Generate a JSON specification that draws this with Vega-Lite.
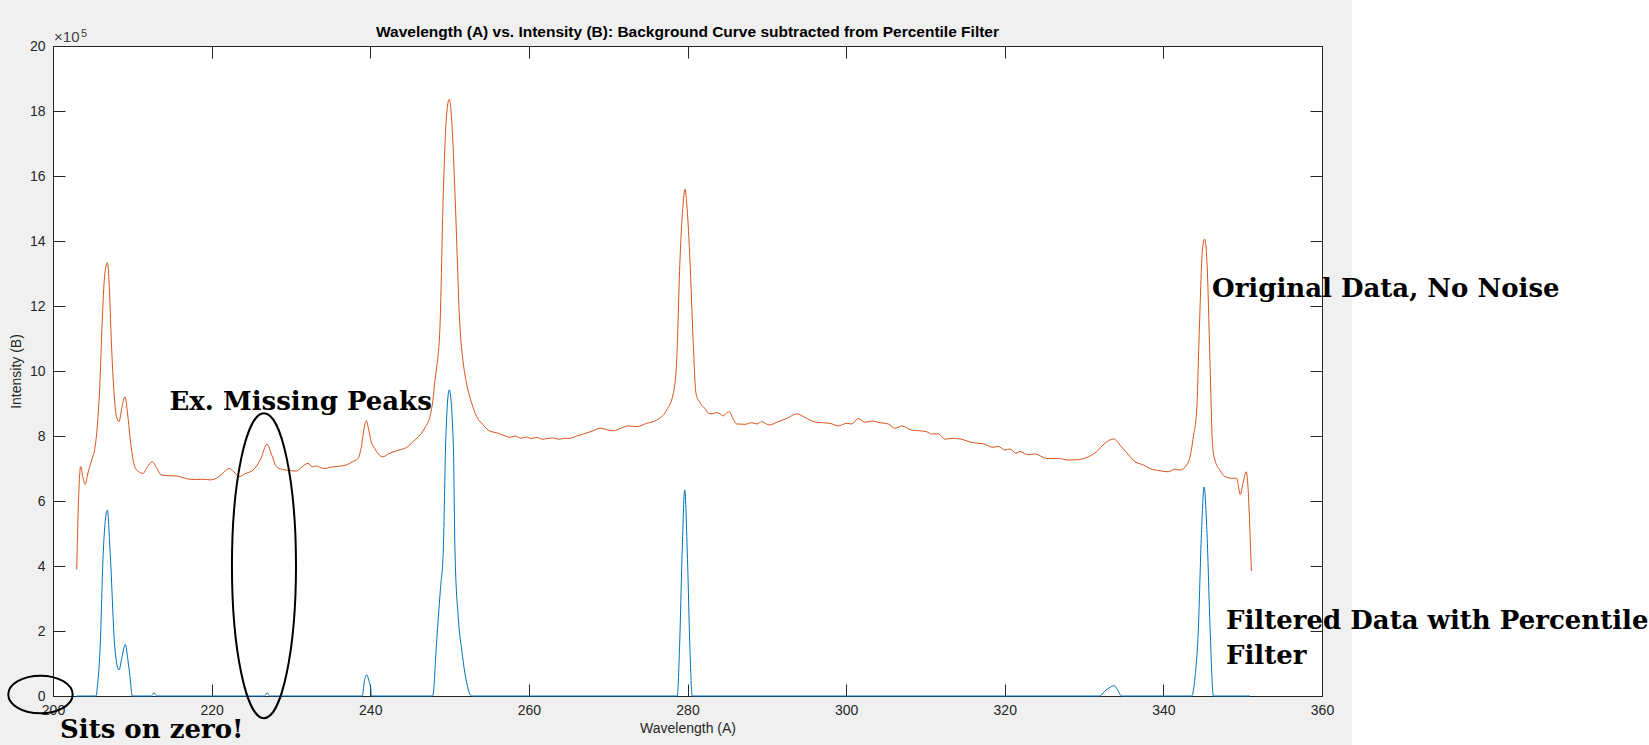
{
  "$schema": "https://vega.github.io/schema/vega-lite/v6.json",
  "autosize": {"type": "none"},
  "width": 1269,
  "height": 650,
  "padding": {"left": 53, "top": 46, "right": 327, "bottom": 49},
  "background": "#f0f0f0",
  "title": {"text": "Wavelength (A) vs. Intensity (B): Background Curve subtracted from Percentile Filter", "font": "Liberation Sans", "fontSize": 15.5, "fontWeight": "bold", "color": "#000000", "anchor": "middle", "offset": 6, "dy": 48},
  "config": {
    "view": {"fill": "#ffffff", "stroke": "#262626", "strokeWidth": 1},
    "axis": {"labelFont": "Liberation Sans", "labelFontSize": 14, "labelColor": "#262626", "titleFont": "Liberation Sans", "titleFontSize": 14, "titleFontWeight": "normal", "titleColor": "#262626", "domainColor": "#262626", "tickColor": "#262626", "tickSize": -12, "grid": false, "labelFlush": false, "labelOverlap": false}
  },
  "datasets": {
    "original": [
      {"wavelength": 202.99, "intensity": 390000}, {"wavelength": 203.2, "intensity": 590000}, {"wavelength": 203.49, "intensity": 706000}, {"wavelength": 203.75, "intensity": 675000}, {"wavelength": 204.07, "intensity": 651000}, {"wavelength": 204.35, "intensity": 680000}, {"wavelength": 204.62, "intensity": 706000}, {"wavelength": 205.0, "intensity": 735000}, {"wavelength": 205.25, "intensity": 757000}, {"wavelength": 205.55, "intensity": 820000}, {"wavelength": 205.88, "intensity": 942000}, {"wavelength": 206.2, "intensity": 1150000}, {"wavelength": 206.5, "intensity": 1290000}, {"wavelength": 206.85, "intensity": 1333000}, {"wavelength": 207.1, "intensity": 1260000}, {"wavelength": 207.35, "intensity": 1095000}, {"wavelength": 207.7, "intensity": 930000}, {"wavelength": 208.0, "intensity": 860000}, {"wavelength": 208.32, "intensity": 844000}, {"wavelength": 208.7, "intensity": 890000}, {"wavelength": 209.08, "intensity": 921000}, {"wavelength": 209.4, "intensity": 870000}, {"wavelength": 209.75, "intensity": 788000}, {"wavelength": 210.3, "intensity": 706000}, {"wavelength": 210.8, "intensity": 690000}, {"wavelength": 211.35, "intensity": 685000}, {"wavelength": 211.9, "intensity": 705000}, {"wavelength": 212.52, "intensity": 721000}, {"wavelength": 213.1, "intensity": 700000}, {"wavelength": 213.65, "intensity": 680000}, {"wavelength": 214.6, "intensity": 678000}, {"wavelength": 215.55, "intensity": 677000}, {"wavelength": 216.4, "intensity": 672000}, {"wavelength": 217.24, "intensity": 667000}, {"wavelength": 218.1, "intensity": 666000}, {"wavelength": 218.91, "intensity": 667000}, {"wavelength": 219.8, "intensity": 665000}, {"wavelength": 220.59, "intensity": 670000}, {"wavelength": 221.4, "intensity": 685000}, {"wavelength": 222.19, "intensity": 700000}, {"wavelength": 222.8, "intensity": 690000}, {"wavelength": 223.45, "intensity": 675000}, {"wavelength": 224.3, "intensity": 685000}, {"wavelength": 225.22, "intensity": 695000}, {"wavelength": 226.2, "intensity": 730000}, {"wavelength": 226.98, "intensity": 775000}, {"wavelength": 227.6, "intensity": 740000}, {"wavelength": 228.16, "intensity": 706000}, {"wavelength": 228.8, "intensity": 698000}, {"wavelength": 229.42, "intensity": 695000}, {"wavelength": 230.1, "intensity": 693000}, {"wavelength": 230.68, "intensity": 692000}, {"wavelength": 231.4, "intensity": 705000}, {"wavelength": 232.15, "intensity": 716000}, {"wavelength": 232.7, "intensity": 705000}, {"wavelength": 233.2, "intensity": 708000}, {"wavelength": 233.7, "intensity": 703000}, {"wavelength": 234.26, "intensity": 700000}, {"wavelength": 235.0, "intensity": 704000}, {"wavelength": 235.72, "intensity": 706000}, {"wavelength": 236.4, "intensity": 708000}, {"wavelength": 236.98, "intensity": 711000}, {"wavelength": 237.7, "intensity": 720000}, {"wavelength": 238.46, "intensity": 731000}, {"wavelength": 238.9, "intensity": 770000}, {"wavelength": 239.2, "intensity": 820000}, {"wavelength": 239.5, "intensity": 847000}, {"wavelength": 239.8, "intensity": 820000}, {"wavelength": 240.15, "intensity": 780000}, {"wavelength": 240.56, "intensity": 762000}, {"wavelength": 241.0, "intensity": 745000}, {"wavelength": 241.61, "intensity": 736000}, {"wavelength": 242.3, "intensity": 745000}, {"wavelength": 243.0, "intensity": 752000}, {"wavelength": 243.8, "intensity": 758000}, {"wavelength": 244.6, "intensity": 765000}, {"wavelength": 245.5, "intensity": 785000}, {"wavelength": 246.27, "intensity": 803000}, {"wavelength": 247.0, "intensity": 830000}, {"wavelength": 247.53, "intensity": 860000}, {"wavelength": 247.9, "intensity": 910000}, {"wavelength": 248.16, "intensity": 972000}, {"wavelength": 248.37, "intensity": 1010000}, {"wavelength": 248.79, "intensity": 1136000}, {"wavelength": 249.21, "intensity": 1547000}, {"wavelength": 249.6, "intensity": 1780000}, {"wavelength": 249.96, "intensity": 1836000}, {"wavelength": 250.3, "intensity": 1760000}, {"wavelength": 250.68, "intensity": 1547000}, {"wavelength": 251.31, "intensity": 1136000}, {"wavelength": 251.7, "intensity": 1030000}, {"wavelength": 252.16, "intensity": 960000}, {"wavelength": 252.8, "intensity": 900000}, {"wavelength": 253.42, "intensity": 860000}, {"wavelength": 254.2, "intensity": 835000}, {"wavelength": 254.88, "intensity": 818000}, {"wavelength": 255.5, "intensity": 812000}, {"wavelength": 255.94, "intensity": 810000}, {"wavelength": 256.5, "intensity": 805000}, {"wavelength": 257.0, "intensity": 800000}, {"wavelength": 257.62, "intensity": 796000}, {"wavelength": 258.3, "intensity": 800000}, {"wavelength": 259.0, "intensity": 793000}, {"wavelength": 259.7, "intensity": 797000}, {"wavelength": 260.3, "intensity": 792000}, {"wavelength": 261.0, "intensity": 796000}, {"wavelength": 261.7, "intensity": 790000}, {"wavelength": 262.25, "intensity": 792000}, {"wavelength": 263.0, "intensity": 794000}, {"wavelength": 263.8, "intensity": 790000}, {"wavelength": 264.5, "intensity": 793000}, {"wavelength": 265.19, "intensity": 793000}, {"wavelength": 266.0, "intensity": 800000}, {"wavelength": 266.87, "intensity": 806000}, {"wavelength": 268.0, "intensity": 815000}, {"wavelength": 268.97, "intensity": 824000}, {"wavelength": 269.8, "intensity": 820000}, {"wavelength": 270.65, "intensity": 816000}, {"wavelength": 271.6, "intensity": 824000}, {"wavelength": 272.54, "intensity": 831000}, {"wavelength": 273.6, "intensity": 829000}, {"wavelength": 274.86, "intensity": 839000}, {"wavelength": 276.12, "intensity": 849000}, {"wavelength": 277.38, "intensity": 880000}, {"wavelength": 278.21, "intensity": 931000}, {"wavelength": 278.64, "intensity": 1034000}, {"wavelength": 279.05, "intensity": 1340000}, {"wavelength": 279.4, "intensity": 1500000}, {"wavelength": 279.68, "intensity": 1559000}, {"wavelength": 279.95, "intensity": 1500000}, {"wavelength": 280.31, "intensity": 1340000}, {"wavelength": 280.7, "intensity": 1100000}, {"wavelength": 281.07, "intensity": 931000}, {"wavelength": 281.49, "intensity": 906000}, {"wavelength": 281.79, "intensity": 895000}, {"wavelength": 282.2, "intensity": 885000}, {"wavelength": 282.62, "intensity": 870000}, {"wavelength": 283.1, "intensity": 868000}, {"wavelength": 283.68, "intensity": 872000}, {"wavelength": 284.1, "intensity": 868000}, {"wavelength": 284.51, "intensity": 862000}, {"wavelength": 284.9, "intensity": 870000}, {"wavelength": 285.27, "intensity": 875000}, {"wavelength": 285.7, "intensity": 855000}, {"wavelength": 286.2, "intensity": 837000}, {"wavelength": 287.25, "intensity": 836000}, {"wavelength": 288.09, "intensity": 841000}, {"wavelength": 288.72, "intensity": 837000}, {"wavelength": 289.35, "intensity": 844000}, {"wavelength": 290.31, "intensity": 834000}, {"wavelength": 291.24, "intensity": 842000}, {"wavelength": 292.5, "intensity": 854000}, {"wavelength": 293.77, "intensity": 868000}, {"wavelength": 294.81, "intensity": 857000}, {"wavelength": 296.07, "intensity": 843000}, {"wavelength": 297.97, "intensity": 839000}, {"wavelength": 299.01, "intensity": 831000}, {"wavelength": 300.07, "intensity": 839000}, {"wavelength": 300.7, "intensity": 837000}, {"wavelength": 301.54, "intensity": 854000}, {"wavelength": 302.38, "intensity": 842000}, {"wavelength": 303.22, "intensity": 846000}, {"wavelength": 304.27, "intensity": 841000}, {"wavelength": 305.32, "intensity": 837000}, {"wavelength": 306.16, "intensity": 824000}, {"wavelength": 307.01, "intensity": 831000}, {"wavelength": 308.27, "intensity": 818000}, {"wavelength": 309.31, "intensity": 816000}, {"wavelength": 310.16, "intensity": 813000}, {"wavelength": 310.79, "intensity": 806000}, {"wavelength": 311.62, "intensity": 807000}, {"wavelength": 312.47, "intensity": 790000}, {"wavelength": 313.31, "intensity": 793000}, {"wavelength": 314.57, "intensity": 790000}, {"wavelength": 315.4, "intensity": 783000}, {"wavelength": 316.46, "intensity": 778000}, {"wavelength": 317.29, "intensity": 776000}, {"wavelength": 318.55, "intensity": 765000}, {"wavelength": 319.18, "intensity": 768000}, {"wavelength": 320.03, "intensity": 757000}, {"wavelength": 320.66, "intensity": 760000}, {"wavelength": 321.42, "intensity": 747000}, {"wavelength": 321.92, "intensity": 752000}, {"wavelength": 322.97, "intensity": 742000}, {"wavelength": 323.81, "intensity": 745000}, {"wavelength": 325.29, "intensity": 731000}, {"wavelength": 326.75, "intensity": 731000}, {"wavelength": 328.01, "intensity": 726000}, {"wavelength": 329.07, "intensity": 727000}, {"wavelength": 330.54, "intensity": 736000}, {"wavelength": 331.59, "intensity": 752000}, {"wavelength": 332.64, "intensity": 778000}, {"wavelength": 333.77, "intensity": 791000}, {"wavelength": 334.53, "intensity": 772000}, {"wavelength": 335.37, "intensity": 749000}, {"wavelength": 336.42, "intensity": 721000}, {"wavelength": 337.47, "intensity": 711000}, {"wavelength": 338.31, "intensity": 700000}, {"wavelength": 339.57, "intensity": 693000}, {"wavelength": 340.62, "intensity": 690000}, {"wavelength": 341.47, "intensity": 698000}, {"wavelength": 342.1, "intensity": 695000}, {"wavelength": 342.94, "intensity": 711000}, {"wavelength": 343.36, "intensity": 736000}, {"wavelength": 343.78, "intensity": 798000}, {"wavelength": 344.2, "intensity": 880000}, {"wavelength": 344.53, "intensity": 1126000}, {"wavelength": 344.96, "intensity": 1383000}, {"wavelength": 345.21, "intensity": 1406000}, {"wavelength": 345.54, "intensity": 1311000}, {"wavelength": 345.88, "intensity": 1024000}, {"wavelength": 346.21, "intensity": 767000}, {"wavelength": 346.5, "intensity": 726000}, {"wavelength": 347.13, "intensity": 695000}, {"wavelength": 347.76, "intensity": 675000}, {"wavelength": 348.61, "intensity": 670000}, {"wavelength": 349.24, "intensity": 670000}, {"wavelength": 349.7, "intensity": 620000}, {"wavelength": 350.0, "intensity": 650000}, {"wavelength": 350.45, "intensity": 690000}, {"wavelength": 350.7, "intensity": 630000}, {"wavelength": 351.0, "intensity": 450000}, {"wavelength": 351.1, "intensity": 385000}
    ],
    "filtered": [
      {"wavelength": 203.0, "intensity": 0}, {"wavelength": 205.42, "intensity": 0}, {"wavelength": 205.6, "intensity": 30000}, {"wavelength": 205.93, "intensity": 142000}, {"wavelength": 206.35, "intensity": 449000}, {"wavelength": 206.85, "intensity": 572000}, {"wavelength": 207.19, "intensity": 449000}, {"wavelength": 207.82, "intensity": 142000}, {"wavelength": 208.32, "intensity": 80000}, {"wavelength": 208.7, "intensity": 120000}, {"wavelength": 209.12, "intensity": 159000}, {"wavelength": 209.45, "intensity": 110000}, {"wavelength": 209.71, "intensity": 60000}, {"wavelength": 210.0, "intensity": 0}, {"wavelength": 212.4, "intensity": 0}, {"wavelength": 212.75, "intensity": 10000}, {"wavelength": 213.07, "intensity": 0}, {"wavelength": 226.7, "intensity": 0}, {"wavelength": 227.0, "intensity": 10000}, {"wavelength": 227.3, "intensity": 0}, {"wavelength": 239.0, "intensity": 0}, {"wavelength": 239.25, "intensity": 45000}, {"wavelength": 239.55, "intensity": 65000}, {"wavelength": 239.85, "intensity": 45000}, {"wavelength": 240.1, "intensity": 15000}, {"wavelength": 240.12, "intensity": 0}, {"wavelength": 247.87, "intensity": 0}, {"wavelength": 248.4, "intensity": 180000}, {"wavelength": 248.85, "intensity": 330000}, {"wavelength": 249.21, "intensity": 449000}, {"wavelength": 249.51, "intensity": 778000}, {"wavelength": 249.96, "intensity": 942000}, {"wavelength": 250.47, "intensity": 778000}, {"wavelength": 250.68, "intensity": 449000}, {"wavelength": 251.1, "intensity": 240000}, {"wavelength": 251.53, "intensity": 142000}, {"wavelength": 251.94, "intensity": 70000}, {"wavelength": 252.79, "intensity": 0}, {"wavelength": 278.7, "intensity": 0}, {"wavelength": 279.0, "intensity": 150000}, {"wavelength": 279.3, "intensity": 420000}, {"wavelength": 279.65, "intensity": 634000}, {"wavelength": 280.0, "intensity": 420000}, {"wavelength": 280.3, "intensity": 150000}, {"wavelength": 280.6, "intensity": 0}, {"wavelength": 332.0, "intensity": 0}, {"wavelength": 332.6, "intensity": 15000}, {"wavelength": 333.3, "intensity": 27000}, {"wavelength": 333.77, "intensity": 32000}, {"wavelength": 334.2, "intensity": 20000}, {"wavelength": 334.74, "intensity": 0}, {"wavelength": 343.57, "intensity": 0}, {"wavelength": 344.0, "intensity": 60000}, {"wavelength": 344.4, "intensity": 200000}, {"wavelength": 344.8, "intensity": 500000}, {"wavelength": 345.14, "intensity": 643000}, {"wavelength": 345.5, "intensity": 500000}, {"wavelength": 345.9, "intensity": 200000}, {"wavelength": 346.3, "intensity": 0}, {"wavelength": 350.92, "intensity": 0}
    ],
    "notes": [
      {"wavelength": 346.13, "intensity": 1229230, "note": "Original Data, No Noise"},
      {"wavelength": 347.9, "intensity": 206154, "note": "Filtered Data with Percentile"},
      {"wavelength": 347.9, "intensity": 98462, "note": "Filter"},
      {"wavelength": 214.69, "intensity": 880000, "note": "Ex. Missing Peaks"},
      {"wavelength": 200.88, "intensity": -130154, "note": "Sits on zero!"}
    ]
  },
  "resolve": {"axis": {"x": "independent", "y": "independent"}},
  "layer": [
    {
      "data": {"values": [{}]},
      "mark": {"type": "rect", "color": "#ffffff"},
      "encoding": {
        "x": {"datum": 363.8, "type": "quantitative", "scale": {"domain": [200, 360], "nice": false}, "axis": null},
        "x2": {"datum": 402},
        "y": {"datum": -152000, "type": "quantitative", "scale": {"domain": [0, 2000000], "nice": false}, "axis": null},
        "y2": {"datum": 2145000}
      }
    },
    {
      "data": {"name": "original"},
      "mark": {"type": "line", "color": "#D95319", "strokeWidth": 1, "interpolate": "monotone"},
      "encoding": {
        "x": {"field": "wavelength", "type": "quantitative", "scale": {"domain": [200, 360], "nice": false}, "axis": {"orient": "bottom", "title": "Wavelength (A)", "values": [200, 220, 240, 260, 280, 300, 320, 340, 360], "labelPadding": 19, "titlePadding": 4}},
        "y": {"field": "intensity", "type": "quantitative", "scale": {"domain": [0, 2000000], "nice": false}, "axis": {"orient": "left", "title": "Intensity (B)", "values": [0, 200000, 400000, 600000, 800000, 1000000, 1200000, 1400000, 1600000, 1800000, 2000000], "labelExpr": "datum.value / 100000", "labelPadding": 20, "titlePadding": 6}}
      }
    },
    {
      "data": {"name": "filtered"},
      "mark": {"type": "line", "color": "#0072BD", "strokeWidth": 1, "interpolate": "monotone"},
      "encoding": {
        "x": {"field": "wavelength", "type": "quantitative", "scale": {"domain": [200, 360], "nice": false}, "axis": {"orient": "top", "title": null, "labels": false, "values": [200, 220, 240, 260, 280, 300, 320, 340, 360]}},
        "y": {"field": "intensity", "type": "quantitative", "scale": {"domain": [0, 2000000], "nice": false}, "axis": {"orient": "right", "title": null, "labels": false, "values": [0, 200000, 400000, 600000, 800000, 1000000, 1200000, 1400000, 1600000, 1800000, 2000000]}}
      }
    },
    {
      "data": {"values": [{}]},
      "mark": {"type": "point", "filled": false, "stroke": "#000000", "strokeWidth": 2, "opacity": 1, "size": 93025, "shape": "M 0 -1 C 0.116 -1 0.21 -0.552 0.21 0 C 0.21 0.552 0.116 1 0 1 C -0.116 1 -0.21 0.552 -0.21 0 C -0.21 -0.552 -0.116 -1 0 -1 Z"},
      "encoding": {
        "x": {"datum": 226.6, "type": "quantitative", "scale": {"domain": [200, 360], "nice": false}, "axis": null},
        "y": {"datum": 400923, "type": "quantitative", "scale": {"domain": [0, 2000000], "nice": false}, "axis": null}
      }
    },
    {
      "data": {"values": [{}]},
      "mark": {"type": "point", "filled": false, "stroke": "#000000", "strokeWidth": 2, "opacity": 1, "size": 4147, "shape": "M -1 0 C -1 -0.3226 -0.5523 -0.584 0 -0.584 C 0.5523 -0.584 1 -0.3226 1 0 C 1 0.3226 0.5523 0.584 0 0.584 C -0.5523 0.584 -1 0.3226 -1 0 Z"},
      "encoding": {
        "x": {"datum": 198.42, "type": "quantitative", "scale": {"domain": [200, 360], "nice": false}, "axis": null},
        "y": {"datum": 4615, "type": "quantitative", "scale": {"domain": [0, 2000000], "nice": false}, "axis": null}
      }
    },
    {
      "data": {"name": "notes"},
      "mark": {"type": "text", "align": "left", "baseline": "alphabetic", "font": "DejaVu Serif", "fontWeight": "bold", "fontSize": 26, "color": "#000000"},
      "encoding": {
        "x": {"field": "wavelength", "type": "quantitative", "scale": {"domain": [200, 360], "nice": false}, "axis": null},
        "y": {"field": "intensity", "type": "quantitative", "scale": {"domain": [0, 2000000], "nice": false}, "axis": null},
        "text": {"field": "note"}
      }
    },
    {
      "data": {"values": [{}]},
      "mark": {"type": "text", "align": "left", "baseline": "alphabetic", "font": "Liberation Sans", "fontSize": 15, "color": "#404040", "text": "×10"},
      "encoding": {
        "x": {"datum": 200.13, "type": "quantitative", "scale": {"domain": [200, 360], "nice": false}, "axis": null},
        "y": {"datum": 2012308, "type": "quantitative", "scale": {"domain": [0, 2000000], "nice": false}, "axis": null}
      }
    },
    {
      "data": {"values": [{}]},
      "mark": {"type": "text", "align": "left", "baseline": "alphabetic", "font": "Liberation Sans", "fontSize": 11, "color": "#404040", "text": "5"},
      "encoding": {
        "x": {"datum": 203.53, "type": "quantitative", "scale": {"domain": [200, 360], "nice": false}, "axis": null},
        "y": {"datum": 2028615, "type": "quantitative", "scale": {"domain": [0, 2000000], "nice": false}, "axis": null}
      }
    }
  ]
}
